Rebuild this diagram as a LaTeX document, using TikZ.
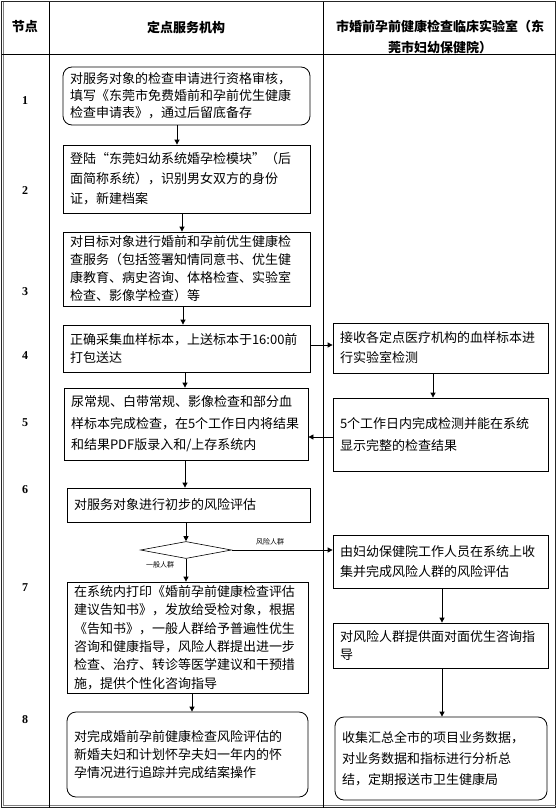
\documentclass[tikz,border=0pt]{standalone}
\usepackage{fontspec}
\setmainfont{Liberation Serif}
\newfontfamily\cjk{Noto Sans CJK SC}
\usetikzlibrary{arrows.meta,shapes.geometric}
\begin{document}
\begin{tikzpicture}[x=1pt,y=1pt,
  box/.style={draw, line width=0.8pt, align=left, inner xsep=7pt, inner ysep=2pt, font=\cjk\fontsize{13}{18.5}\selectfont},
  lsk/.style={font=\cjk\fontsize{13}{#1}\selectfont},
  rbox/.style={box, rounded corners=9pt},
  arr/.style={line width=0.8pt, -{Triangle[length=5pt,width=5pt]}},
  num/.style={font=\bfseries\fontsize{12}{14}\selectfont},
  head/.style={font=\cjk\bfseries\fontsize{13}{21}\selectfont, align=center},
  lab/.style={font=\cjk\fontsize{7}{8}\selectfont, inner sep=1pt}]

\useasboundingbox (0,0) rectangle (558,-811);

% table frame
\draw[line width=1pt, black!85] (1.5,-1.5) rectangle (555.5,-807.5);
\draw[line width=0.8pt, gray] (3.5,-1.5) -- (3.5,-805.5) -- (555.5,-805.5);
\draw[line width=0.8pt] (1.5,-54) -- (555.5,-54);
\draw[line width=0.8pt] (49,-1.5) -- (49,-807.5);
\draw[line width=0.8pt] (323,-1.5) -- (323,-807.5);

% headers
\node[head] (h0) at (25,-27) {节点};
\node[head] (h1) at (186,-27) {定点服务机构};
\node[head] (h2) at (440,-37.5) {市婚前孕前健康检查临床实验室（东\\莞市妇幼保健院）};

% row numbers
\node[num] (n1) at (25,-101) {1};
\node[num] (n2) at (25,-191) {2};
\node[num] (n3) at (25,-292) {3};
\node[num] (n4) at (25,-356) {4};
\node[num] (n5) at (25,-423) {5};
\node[num] (n6) at (25,-490) {6};
\node[num] (n7) at (25,-588) {7};
\node[num] (n8) at (25,-720) {8};

% left column
\node[rbox, lsk=17, text width=233pt, minimum height=58pt] (b1) at (186.5,-96)
  {对服务对象的检查申请进行资格审核，\\填写《东莞市免费婚前和孕前优生健康\\检查申请表》，通过后留底备存};
\node[box, lsk=20, text width=233pt, minimum height=68pt] (b2) at (186.5,-179)
  {登陆“东莞妇幼系统婚孕检模块”（后\\面简称系统），识别男女双方的身份\\证，新建档案};
\node[box, lsk=18, text width=233pt, minimum height=74pt] (b3) at (186.5,-269)
  {对目标对象进行婚前和孕前优生健康检\\查服务（包括签署知情同意书、优生健\\康教育、病史咨询、体格检查、实验室\\检查、影像学检查）等};
\node[box, lsk=18, text width=233pt, minimum height=47pt] (b4) at (186.5,-348.5)
  {正确采集血样标本，上送标本于16:00前\\打包送达};
\node[box, lsk=21.5, text width=230pt, minimum height=72pt] (b5) at (186,-424)
  {尿常规、白带常规、影像检查和部分血\\样标本完成检查，在5个工作日内将结果\\和结果PDF版录入和/上存系统内};
\node[box, text width=229pt, minimum height=34pt] (b6) at (188.5,-505)
  {对服务对象进行初步的风险评估};
\node[draw, diamond, line width=0.6pt, minimum width=91pt, minimum height=17pt, inner sep=0pt] (dm) at (186,-550) {};
\node[box, lsk=18.4, text width=227pt, minimum height=111pt] (b7) at (187.5,-637.5)
  {在系统内打印《婚前孕前健康检查评估\\建议告知书》，发放给受检对象，根据\\《告知书》，一般人群给予普遍性优生\\咨询和健康指导，风险人群提出进一步\\检查、治疗、转诊等医学建议和干预措\\施，提供个性化咨询指导};
\node[rbox, lsk=18, text width=227pt, minimum height=85pt] (b8) at (187.5,-754.5)
  {对完成婚前孕前健康检查风险评估的\\新婚夫妇和计划怀孕夫妇一年内的怀\\孕情况进行追踪并完成结案操作};

% right column
\node[box, lsk=20, text width=201pt, minimum height=50pt] (rA) at (440.5,-348)
  {接收各定点医疗机构的血样标本进\\行实验室检测};
\node[box, lsk=22, text width=201pt, minimum height=73pt] (rB) at (440.5,-434.5)
  {5个工作日内完成检测并能在系统\\显示完整的检查结果};
\node[box, lsk=20, text width=201pt, minimum height=53pt] (rC) at (440.5,-561.5)
  {由妇幼保健院工作人员在系统上收\\集并完成风险人群的风险评估};
\node[box, lsk=18, text width=201pt, minimum height=45pt] (rD) at (440.5,-645.5)
  {对风险人群提供面对面优生咨询指\\导};
\node[rbox, lsk=21, text width=198pt, minimum height=83pt] (rE) at (441,-758.5)
  {收集汇总全市的项目业务数据，\\对业务数据和指标进行分析总\\结，定期报送市卫生健康局};

% labels
\node[lab] (l1) at (270,-542) {风险人群};
\node[lab] (l2) at (160,-565) {一般人群};

% connectors
\draw[arr] (177,0 |- b1.south) -- (177,0 |- b2.north);
\draw[arr] (182,0 |- b2.south) -- (182,0 |- b3.north);
\draw[arr] (183,0 |- b3.south) -- (183,0 |- b4.north);
\draw[arr] (185,0 |- b4.south) -- (185,0 |- b5.north);
\draw[arr] (185,0 |- b5.south) -- (185,0 |- b6.north);
\draw[arr] (186,0 |- b6.south) -- (dm.north);
\draw[arr] (dm.south) -- (186,0 |- b7.north);
\draw[arr] (192,0 |- b7.south) -- (192,0 |- b8.north);
\draw[arr] (b4.east |- 0,-345) -- (rA.west |- 0,-345);
\draw[arr] (433,0 |- rA.south) -- (433,0 |- rB.north);
\draw[arr] (rB.west |- 0,-437) -- (b5.east |- 0,-437);
\draw[arr] (dm.east) -- (rC.west |- dm.east);
\draw[arr] (442,0 |- rC.south) -- (442,0 |- rD.north);
\draw[arr] (442,0 |- rD.south) -- (442,0 |- rE.north);
\end{tikzpicture}
\end{document}
